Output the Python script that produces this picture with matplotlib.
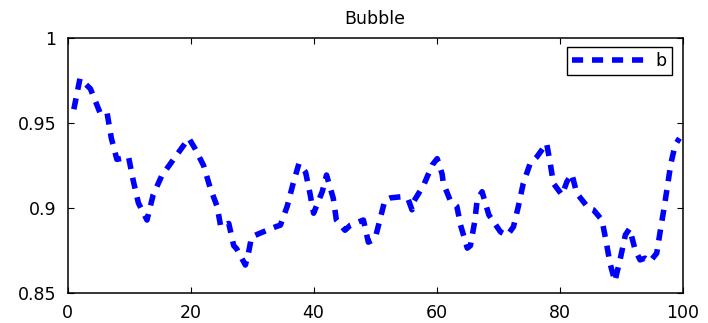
import matplotlib
matplotlib.use("Agg")
import matplotlib.pyplot as plt

# bubble series, sampled where the curve turns
x_vals = [1, 2, 3.7, 5.3, 6.4, 7.1, 8.0, 9.9, 10.7, 11.5, 12.9, 13.9, 15.3, 17.5,
          19.7, 20.7, 22.1, 23.2, 24.3, 24.9, 26.2, 27.0, 27.5, 28.9, 29.4, 29.9,
          31.1, 33.8, 34.6, 35.7, 36.6, 37.6, 38.7, 39.4, 40.0, 41.4, 42.1, 43.2,
          43.7, 45.1, 46.0, 48.1, 48.9, 50.0, 50.7, 51.6, 52.5, 54.4, 55.4, 56.0,
          56.3, 57.9, 59.3, 60.1, 60.9, 61.1, 62.2, 63.3, 63.9, 65.0, 65.5, 66.2,
          66.6, 67.4, 68.5, 70.4, 71.5, 72.5, 73.3, 74.1, 75.2, 76.3, 77.9, 78.5,
          79.0, 80.4, 81.2, 82.0, 82.8, 84.7, 85.5, 86.9, 87.6, 88.2, 89.0, 89.9,
          90.7, 91.4, 92.3, 93.1, 93.9, 94.7, 95.8, 96.4, 97.0, 97.7, 98.1, 98.8,
          99.5]
b_vals = [0.958, 0.976, 0.970, 0.9556, 0.956, 0.941, 0.9286, 0.930, 0.9155, 0.903,
          0.893, 0.9077, 0.919, 0.930, 0.941, 0.935, 0.925, 0.9116, 0.901, 0.889,
          0.891, 0.878, 0.876, 0.8666, 0.8735, 0.883, 0.885, 0.889, 0.890, 0.901,
          0.9135, 0.926, 0.921, 0.9087, 0.897, 0.9096, 0.9194, 0.9057, 0.893, 0.887,
          0.890, 0.893, 0.880, 0.882, 0.892, 0.9047, 0.906, 0.9067, 0.905, 0.899,
          0.904, 0.9135, 0.9253, 0.929, 0.920, 0.9145, 0.9047, 0.901, 0.890, 0.8765,
          0.878, 0.892, 0.9047, 0.9096, 0.896, 0.886, 0.884, 0.889, 0.901, 0.9145,
          0.926, 0.930, 0.938, 0.926, 0.9145, 0.9077, 0.9155, 0.920, 0.9087, 0.900,
          0.899, 0.893, 0.880, 0.8677, 0.857, 0.8706, 0.8842, 0.888, 0.8754, 0.8696,
          0.8706, 0.8686, 0.8735, 0.887, 0.900, 0.9165, 0.926, 0.937, 0.941]

x_ticks = [0, 20, 40, 60, 80, 100]
y_ticks = [0.85, 0.9, 0.95, 1.0]
y_tick_labels = ["0.85", "0.9", "0.95", "1"]

plt.rcParams["font.family"] = "DejaVu Sans"
plt.rcParams["font.size"] = 12.5

fig = plt.figure(figsize=(7.08, 3.23), dpi=100)
ax = fig.add_axes([0.0956, 0.092, 0.8684, 0.7913])

ax.plot(x_vals, b_vals, color="#0000ff", lw=4, dashes=(2.0, 1.6),
        solid_joinstyle="round", label="b")

ax.set_xlim(0, 100)
ax.set_ylim(0.85, 1.0)
ax.set_xticks(x_ticks)
ax.set_yticks(y_ticks)
ax.set_yticklabels(y_tick_labels)
ax.tick_params(direction="in", length=4, width=0.8, top=True, right=True,
               pad=8, labelsize=12.5)
for sp in ax.spines.values():
    sp.set_linewidth(1.1)

ax.set_title("Bubble", fontsize=12.5, pad=10)

leg = ax.legend(loc="upper right", bbox_to_anchor=(0.9824, 0.9648),
                borderaxespad=0, fancybox=False, framealpha=1,
                handlelength=4.4, handletextpad=0.4, borderpad=0.3,
                fontsize=12.5)
leg.get_frame().set_edgecolor("black")
leg.get_frame().set_linewidth(1.0)

fig.savefig("out.png", dpi=100)
